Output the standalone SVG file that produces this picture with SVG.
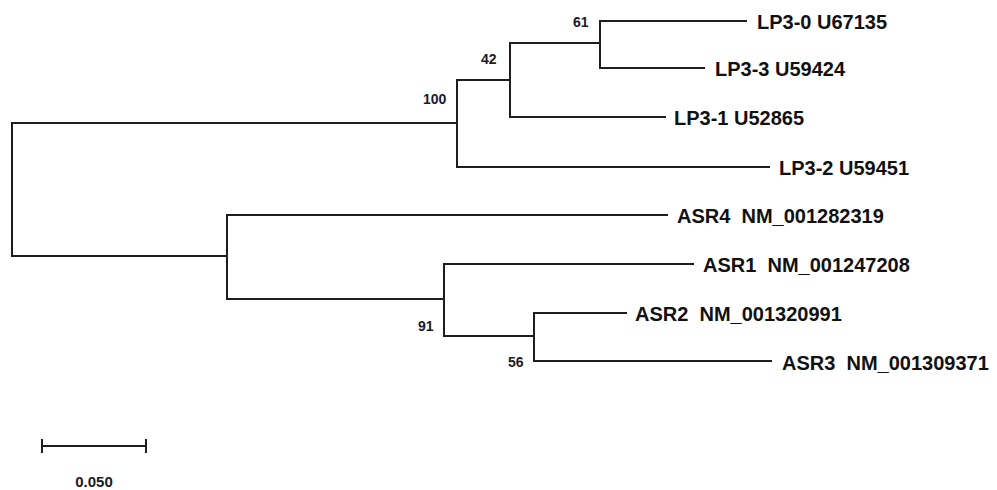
<svg xmlns="http://www.w3.org/2000/svg" width="997" height="490" viewBox="0 0 997 490">
<style>
.br{fill:none;stroke:#1e1e1e;stroke-width:2;stroke-linecap:square}
.lab{font-family:"Liberation Sans",Arial,sans-serif;font-weight:bold;font-size:20px;fill:#111;white-space:pre}
.bs{font-family:"Liberation Sans",Arial,sans-serif;font-weight:bold;font-size:14px;fill:#1a1a2a}
</style>
<rect width="997" height="490" fill="#fff"/>
<g id="connectors">
<path class="br" d="M12,123 V256 M12,123 H457 M12,256 H227"/>
<path class="br" d="M457,80 V167 M457,80 H510 M457,167 H769"/>
<path class="br" d="M510,43 V117 M510,43 H600 M510,117 H665"/>
<path class="br" d="M600,21 V68 M600,21 H746 M600,68 H704"/>
<path class="br" d="M227,215 V299 M227,215 H667 M227,299 H444"/>
<path class="br" d="M444,264 V336 M444,264 H693 M444,336 H534"/>
<path class="br" d="M534,313 V361 M534,313 H626 M534,361 H771"/>
</g>
<g id="n_LP3-0"><text class="lab" x="757" y="29">LP3-0 U67135</text></g>
<g id="n_LP3-3"><text class="lab" x="715" y="76">LP3-3 U59424</text></g>
<g id="n_LP3-1"><text class="lab" x="674" y="125">LP3-1 U52865</text></g>
<g id="n_LP3-2"><text class="lab" x="779" y="175">LP3-2 U59451</text></g>
<g id="n_ASR4"><text class="lab" x="677" y="223">ASR4  NM_001282319</text></g>
<g id="n_ASR1"><text class="lab" x="703" y="272">ASR1  NM_001247208</text></g>
<g id="n_ASR2"><text class="lab" x="635" y="321">ASR2  NM_001320991</text></g>
<g id="n_ASR3"><text class="lab" x="782" y="370">ASR3  NM_001309371</text></g>
<g id="n_b61"><text class="bs" x="573" y="27">61</text></g>
<g id="n_b42"><text class="bs" x="481" y="64">42</text></g>
<g id="n_b100"><text class="bs" x="423" y="104">100</text></g>
<g id="n_b91"><text class="bs" x="418" y="331">91</text></g>
<g id="n_b56"><text class="bs" x="508" y="367">56</text></g>
<g id="scale">
<path class="br" d="M42,446 H146 M42,440 V452 M146,440 V452"/>
<text class="bs" x="94" y="487" text-anchor="middle" style="font-size:15px">0.050</text>
</g>
</svg>
